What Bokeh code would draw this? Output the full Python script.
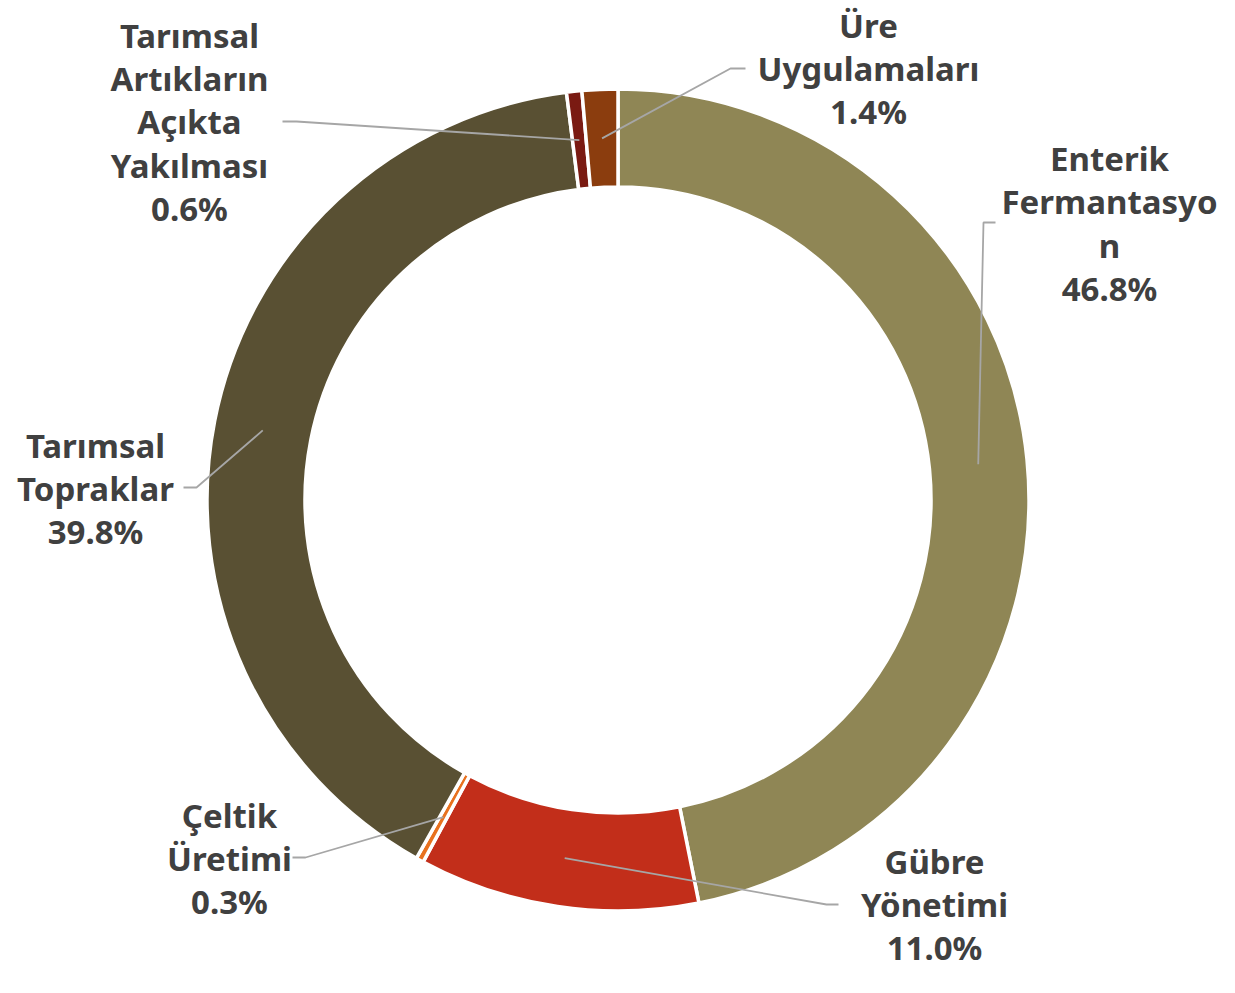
import math
from bokeh.plotting import figure
from bokeh.models import Range1d, ColumnDataSource
from bokeh.core.properties import value
from bokeh.embed import file_html
from bokeh.resources import INLINE

# ---- data (clockwise from 12 o'clock) ----
categories = ["Enterik\nFermantasyo\nn", "Gübre\nYönetimi", "Çeltik\nÜretimi",
              "Tarımsal\nTopraklar", "Tarımsal\nArtıkların\nAçıkta\nYakılması",
              "Üre\nUygulamaları"]
shares = [46.8, 11.0, 0.3, 39.8, 0.6, 1.4]
colors = ["#8F8655", "#C22E1A", "#E8711E", "#595033", "#7A1A12", "#8B3D0E"]

# ---- layout (picture pixel coords) ----
W, H = 1219, 977
CX, CY = 617.5, 499.5
R_OUT, R_IN = 411, 313
label_xy = [(1109, 223), (934, 904), (229, 858), (95, 488), (189, 121.5), (868, 68)]
elbow_xy = [(983, 222), (826, 904), (305, 857), (196, 487), (296, 121), (730, 68)]
end_xy = [(995, 222), (838, 904), (292, 857), (183, 487), (282, 121), (745, 68)]


def py(y):
    return H - y


p = figure(width=W, height=H, output_backend="svg", toolbar_location=None,
           x_range=Range1d(0, W), y_range=Range1d(0, H),
           min_border=0, outline_line_color=None, background_fill_color="white")
p.axis.visible = False
p.grid.visible = False

total = sum(shares)
starts, ends, mids = [], [], []
cum = 0.0
for s in shares:
    a0 = math.pi / 2 - 2 * math.pi * cum / total
    cum += s
    a1 = math.pi / 2 - 2 * math.pi * cum / total
    starts.append(a0)
    ends.append(a1)
    mids.append((a0 + a1) / 2)

src = ColumnDataSource(dict(start=starts, end=ends, color=colors))
p.annular_wedge(x=CX, y=py(CY), inner_radius=R_IN, outer_radius=R_OUT,
                start_angle="start", end_angle="end", direction="clock",
                fill_color="color", line_color="white", line_width=3.5, source=src)

# leader lines
rm = (R_OUT + R_IN) / 2
xs, ys = [], []
for m, e, t in zip(mids, elbow_xy, end_xy):
    sx = CX + rm * math.cos(m)
    sy = CY - rm * math.sin(m)
    xs.append([sx, e[0], t[0]])
    ys.append([py(sy), py(e[1]), py(t[1])])
p.multi_line(xs=xs, ys=ys, line_color="#A6A6A6", line_width=1.8)

labels = [f"{c}\n{s:.1f}%" for c, s in zip(categories, shares)]
p.text(x=[l[0] for l in label_xy], y=[py(l[1]) for l in label_xy], text=labels,
       text_align="center", text_baseline="middle",
       text_font=value("Noto Sans"), text_font_style="bold", text_font_size="33px",
       text_color="#404040", text_line_height=0.962)

open("out.html", "w").write(file_html(p, INLINE))
